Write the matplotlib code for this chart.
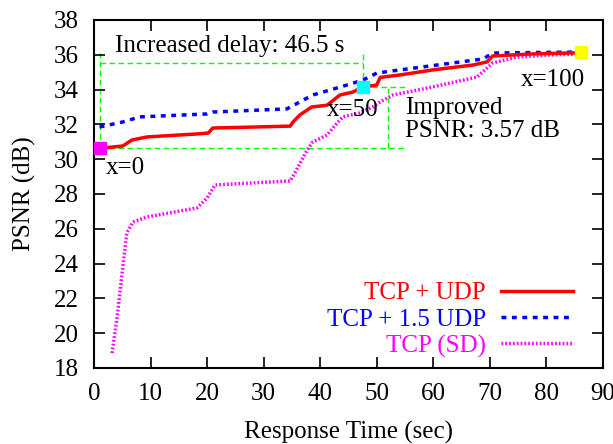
import matplotlib
matplotlib.use('Agg')
import matplotlib.pyplot as plt

plt.rcParams['font.family'] = ['Liberation Serif', 'DejaVu Serif']
plt.rcParams['mathtext.fontset'] = 'stix'

# ------------------------------------------------------------
# data
# ------------------------------------------------------------
udp_x = [1.0, 5.1, 6.7, 9.4, 18.2, 20.2, 21.0, 34.7, 35.2, 36.4, 38.5, 41.2,
         43.5, 45.8, 47.6, 50.0, 50.6, 54.1, 59.9, 67.0, 69.5, 70.5, 77.6, 86.1]
udp_y = [30.62, 30.76, 31.1, 31.28, 31.45, 31.5, 31.79, 31.9, 32.14, 32.54,
         33.0, 33.1, 33.69, 33.86, 34.15, 34.26, 34.7, 34.84, 35.13, 35.41,
         35.59, 35.93, 36.05, 36.12]

udp15_x = [1.0, 5.1, 8.1, 20.0, 21.0, 34.1, 36.4, 38.7, 42.3, 44.7, 47.6,
           50.0, 54.1, 68.8, 70.5, 86.1]
udp15_y = [31.85, 32.14, 32.43, 32.6, 32.71, 32.89, 33.29, 33.69, 34.03,
           34.26, 34.55, 34.95, 35.13, 35.76, 36.1, 36.16]

sd_x = [3.2, 4.1, 5.1, 5.8, 6.9, 9.4, 18.2, 20.0, 21.4, 34.7, 35.5, 37.7,
        38.7, 41.2, 43.0, 44.0, 47.0, 49.3, 50.6, 52.9, 59.9, 67.7, 70.5,
        74.8, 80.6, 86.1]
sd_y = [18.86, 20.93, 23.8, 25.76, 26.39, 26.68, 27.2, 27.77, 28.52, 28.75,
        29.2, 30.53, 30.99, 31.39, 32.08, 32.43, 32.66, 33.0, 33.29, 33.69,
        34.15, 34.72, 35.53, 35.87, 35.99, 36.05]

# highlighted points x=0, x=50, x=100
pt_x = [1.0, 47.6, 86.1]
pt_y = [30.62, 34.17, 36.14]
pt_colors = ['#ff00ff', '#00ffff', '#ffff00']
pt_labels = ['x=0', 'x=50', 'x=100']

# ------------------------------------------------------------
# plot
# ------------------------------------------------------------
fig = plt.figure(figsize=(6.13, 4.44), dpi=100)
ax = fig.add_axes([0.1533, 0.1712, 0.8304, 0.7838])

green = dict(color='#00ff00', lw=1.0, dashes=(4, 2.5), zorder=1)
# delay annotation
ax.plot([pt_x[0], pt_x[0]], [pt_y[0], 36.1], **green)
ax.plot([pt_x[1], pt_x[1]], [pt_y[1], 36.1], **green)
ax.plot([pt_x[0], pt_x[1]], [35.55, 35.55], **green)
# psnr annotation
ax.plot([pt_x[0], 55.0], [pt_y[0], pt_y[0]], **green)
ax.plot([pt_x[1], 55.0], [pt_y[1], pt_y[1]], **green)
ax.plot([51.9, 51.9], [pt_y[0], pt_y[1]], **green)

l1, = ax.plot(udp_x, udp_y, color='#ff0000', lw=2.5, label='TCP + UDP',
              zorder=3)
l2, = ax.plot(udp15_x, udp15_y, color='#0000ff', lw=2.5,
              dashes=(1.4, 1.6), label='TCP + 1.5 UDP', zorder=2)
l3, = ax.plot(sd_x, sd_y, color='#ff00ff', lw=2.5, dashes=(0.5, 0.6),
              label='TCP (SD)', zorder=2)

for x, y, c in zip(pt_x, pt_y, pt_colors):
    ax.plot(x, y, 's', color=c, ms=8, mec=c, zorder=5, clip_on=False)

fs = 18
ax.text(2.0, 29.5, pt_labels[0], fontsize=fs, va='center', ha='left')
ax.text(50.3, 32.85, pt_labels[1], fontsize=fs, va='center', ha='right')
ax.text(86.8, 34.55, pt_labels[2], fontsize=fs, va='center', ha='right')
ax.text(24.0, 36.5, 'Increased delay: 46.5 s', fontsize=fs, va='center',
        ha='center')
ax.text(55.0, 32.3, 'Improved\nPSNR: 3.57 dB', fontsize=fs, va='center',
        ha='left', linespacing=1.05)

leg = ax.legend(handles=[l1, l2, l3], loc='lower right', frameon=False,
                fontsize=fs, markerfirst=False, handlelength=2.9,
                handletextpad=0.6, labelspacing=0.15, borderpad=0.0,
                borderaxespad=0.0, bbox_to_anchor=(0.942, 0.03))
for txt, ln in zip(leg.get_texts(), [l1, l2, l3]):
    txt.set_color(ln.get_color())

ax.set_xlim(0, 90)
ax.set_ylim(18, 38)
ax.set_xticks(range(0, 91, 10))
ax.set_yticks(range(18, 39, 2))
ax.tick_params(direction='in', length=8, width=1.2, top=True, right=True,
               labelsize=fs, pad=11)
for sp in ax.spines.values():
    sp.set_linewidth(1.5)

ax.set_xlabel('Response Time (sec)', fontsize=fs, labelpad=11)
ax.set_ylabel('PSNR (dB)', fontsize=fs, labelpad=13)

fig.savefig('out.png', dpi=100)
